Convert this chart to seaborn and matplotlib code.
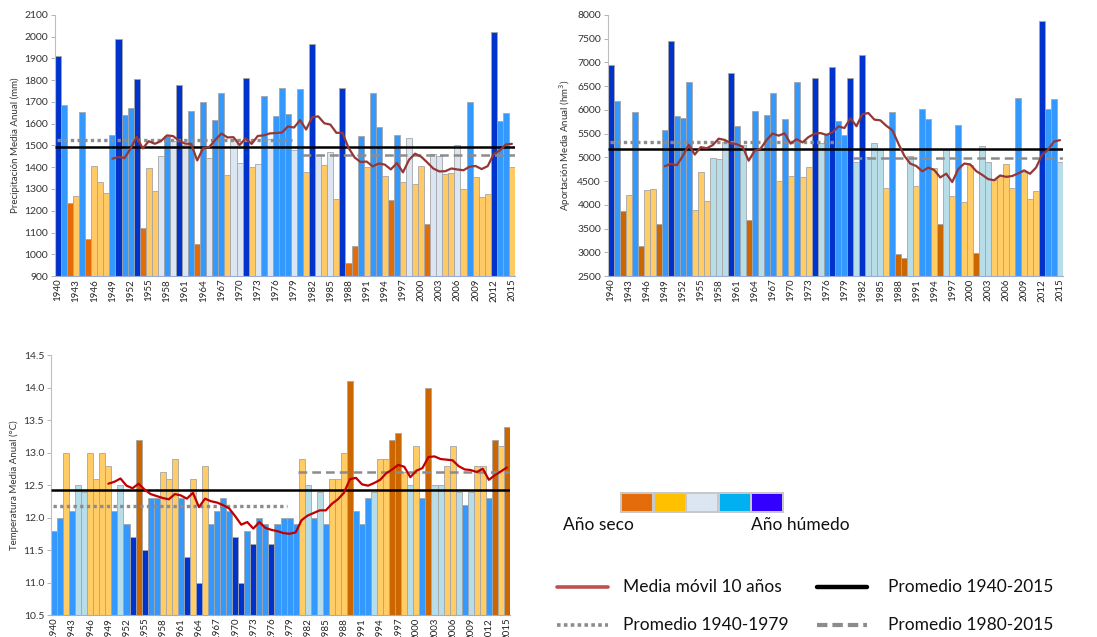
import numpy as np
import pandas as pd
import matplotlib
matplotlib.use("Agg")
import matplotlib.pyplot as plt
import seaborn as sns
from matplotlib.patches import Rectangle
from matplotlib.lines import Line2D

years = list(range(1940, 2016))

# precipitacion media anual (mm)
precip = [1910, 1688, 1235, 1270, 1652, 1070, 1408, 1333, 1280, 1548,
          1990, 1638, 1673, 1806, 1122, 1398, 1290, 1453, 1545, 1520,
          1780, 1500, 1658, 1047, 1698, 1442, 1618, 1743, 1365, 1530,
          1418, 1808, 1402, 1413, 1728, 1530, 1635, 1765, 1647, 1480,
          1758, 1377, 1965, 1455, 1410, 1470, 1256, 1763, 961, 1038,
          1544, 1400, 1743, 1587, 1360, 1249, 1550, 1334, 1534, 1323,
          1406, 1139, 1461, 1453, 1369, 1375, 1502, 1300, 1698, 1354,
          1265, 1275, 2020, 1614, 1648, 1400]
# clase: 0 muy seco ... 4 muy humedo
precip_cls = [4, 3, 0, 1, 3, 0, 1, 1, 1, 3,
              4, 3, 3, 4, 0, 1, 1, 2, 3, 2,
              4, 2, 3, 0, 3, 2, 3, 3, 1, 2,
              2, 4, 1, 2, 3, 2, 3, 3, 3, 2,
              3, 1, 4, 2, 1, 2, 1, 4, 0, 0,
              3, 1, 3, 3, 1, 0, 3, 1, 2, 1,
              1, 0, 2, 2, 1, 1, 2, 1, 3, 1,
              1, 1, 4, 3, 3, 1]

# aportacion media anual (hm3)
aport = [6944, 6183, 3873, 4215, 5950, 3141, 4317, 4330, 3600, 5585,
         7450, 5880, 5820, 6580, 3890, 4700, 4085, 4986, 4965, 5317,
         6780, 5655, 5250, 3670, 5986, 5160, 5887, 6360, 4507, 5810,
         4613, 6580, 4585, 4797, 6680, 5300, 5500, 6900, 5760, 5464,
         6680, 4894, 7150, 5000, 5300, 5150, 4350, 5960, 2970, 2880,
         5020, 4400, 6020, 5800, 4775, 3590, 5150, 4190, 5690, 4060,
         4845, 2990, 5230, 4900, 4530, 4600, 4860, 4350, 6250, 4700,
         4130, 4300, 7880, 6020, 6240, 4900]
aport_cls = [4, 3, 0, 1, 3, 0, 1, 1, 0, 3,
             4, 3, 3, 3, 1, 1, 1, 2, 2, 2,
             4, 3, 2, 0, 3, 2, 3, 3, 1, 3,
             1, 3, 1, 1, 4, 2, 3, 4, 3, 3,
             4, 2, 4, 2, 2, 2, 1, 3, 0, 0,
             2, 1, 3, 3, 1, 0, 2, 1, 3, 1,
             1, 0, 2, 2, 1, 1, 1, 1, 3, 1,
             1, 1, 4, 3, 3, 2]

# temperatura media anual (C)
temp = [11.8, 12.0, 13.0, 12.1, 12.5, 12.4, 13.0, 12.6, 13.0, 12.8,
        12.1, 12.5, 11.9, 11.7, 13.2, 11.5, 12.3, 12.3, 12.7, 12.6,
        12.9, 12.3, 11.4, 12.6, 11.0, 12.8, 11.9, 12.1, 12.3, 12.1,
        11.7, 11.0, 11.8, 11.6, 12.0, 11.9, 11.6, 11.9, 12.0, 12.0,
        11.9, 12.9, 12.5, 12.0, 12.4, 11.9, 12.6, 12.6, 13.0, 14.1,
        12.1, 11.9, 12.3, 12.4, 12.9, 12.9, 13.2, 13.3, 12.7, 12.5,
        13.1, 12.3, 14.0, 12.5, 12.5, 12.8, 13.1, 12.4, 12.2, 12.4,
        12.8, 12.8, 12.3, 13.2, 13.1, 13.4]
temp_cls = [3, 3, 1, 3, 2, 2, 1, 1, 1, 1,
            3, 2, 3, 4, 0, 4, 3, 3, 1, 1,
            1, 3, 4, 1, 4, 1, 3, 3, 3, 3,
            4, 4, 3, 4, 3, 3, 4, 3, 3, 3,
            3, 1, 2, 3, 2, 3, 1, 1, 1, 0,
            3, 3, 3, 2, 1, 1, 0, 0, 1, 2,
            1, 3, 0, 2, 2, 1, 1, 2, 3, 2,
            1, 1, 3, 0, 1, 0]

col_precip = ["#E36C09", "#FFC966", "#DCE6F2", "#3399FF", "#0033CC"]
col_aport = ["#CC6600", "#FFCC66", "#B7DDE8", "#3399FF", "#0033CC"]
col_temp = ["#CC6600", "#FFCC66", "#B7DDE8", "#3399FF", "#0033CC"]
legend_cols = ["#E46C0A", "#FFC000", "#DCE6F2", "#00B0F0", "#3300FF"]

sns.set_style("white")
plt.rcParams['font.family'] = ['Lato', 'DejaVu Sans']

fig = plt.figure(figsize=(10.97, 6.37), dpi=100)


def panel(rect, vals, cls, colors, ma_color, ylim, yticks, ylabel, fmt):
    ax = fig.add_axes(rect)
    ylab = [str(y) for y in years]
    df = pd.DataFrame({"year": ylab, "val": vals, "cls": ["c%d" % c for c in cls]})
    pal = {"c%d" % i: c for i, c in enumerate(colors)}
    sns.barplot(data=df, x="year", y="val", hue="cls", order=ylab,
                hue_order=["c0", "c1", "c2", "c3", "c4"], palette=pal,
                dodge=False, width=1.0, edgecolor="#a6a6a6", linewidth=0.6,
                saturation=1, legend=False, ax=ax)
    n = len(vals)
    s = pd.Series(vals, dtype=float)
    # medias
    ax.hlines(s.mean(), -0.5, n - 0.5, color="black", lw=1.8, zorder=5)
    ax.hlines(s[:40].mean(), -0.2, 38.6, color="#8c8c8c", lw=2.4,
              linestyles=(0, (1.0, 1.0)), zorder=5)
    ax.hlines(s[40:].mean(), 40.4, n - 0.3, color="#8c8c8c", lw=1.8,
              linestyles=(0, (3.5, 2.0)), zorder=5)
    ma = s.rolling(10).mean()
    ax.plot(np.arange(n), ma, color=ma_color, lw=1.6, zorder=6)
    ax.set_xlim(-0.5, n - 0.5)
    ax.set_ylim(*ylim)
    ax.set_yticks(yticks)
    ax.set_yticklabels([fmt % t for t in yticks])
    ax.set_xticks(np.arange(0, n, 3))
    ax.set_xticklabels([str(years[i]) for i in range(0, n, 3)], rotation=90)
    ax.set_xticks(np.arange(-0.5, n, 1), minor=True)
    ax.tick_params(axis="x", which="major", length=0, labelsize=7, pad=2,
                   labelcolor="#222222")
    ax.tick_params(axis="x", which="minor", length=3, color="#a6a6a6", width=0.6)
    ax.tick_params(axis="y", length=3, color="#a6a6a6", width=0.6, labelsize=7.5,
                   labelcolor="#333333", pad=2, left=True)
    ax.set_xlabel("")
    ax.set_ylabel(ylabel, fontsize=7, color="#333333", labelpad=3)
    for sp in ["top", "right"]:
        ax.spines[sp].set_visible(False)
    ax.spines["left"].set_color("#bfbfbf")
    ax.spines["left"].set_linewidth(0.8)
    ax.spines["bottom"].set_color("#9aaed8")
    ax.spines["bottom"].set_linewidth(0.8)
    return ax


panel([0.0501, 0.5667, 0.4193, 0.4098], precip, precip_cls, col_precip, "#953735",
      (900, 2100), list(range(900, 2101, 100)),
      "Precipitación Media Anual (mm)", "%d")
panel([0.5542, 0.5667, 0.4148, 0.4098], aport, aport_cls, col_aport, "#953735",
      (2500, 8000), list(range(2500, 8001, 500)),
      "Aportación Media Anual (hm$^3$)", "%d")
panel([0.0465, 0.0345, 0.4184, 0.4082], temp, temp_cls, col_temp, "#C00000",
      (10.5, 14.5), list(np.arange(10.5, 14.51, 0.5)),
      "Temperatura Media Anual (°C)", "%.1f")

# leyenda (en pixeles de la figura)
lg = fig.add_axes([0, 0, 1, 1])
lg.set_xlim(0, 1097)
lg.set_ylim(637, 0)
lg.axis("off")
lg.patch.set_alpha(0)
lg.add_patch(Rectangle((620, 492), 164, 21, facecolor="#c8c8c8", edgecolor="none"))
for k, c in enumerate(legend_cols):
    lg.add_patch(Rectangle((622 + k * 32.6, 494), 30, 17, facecolor=c, edgecolor="none"))
lg.text(563, 525, "Año seco", fontsize=12.5, va="center", ha="left", color="#111111")
lg.text(751, 525, "Año húmedo", fontsize=12.5, va="center", ha="left", color="#111111")

lg.add_line(Line2D([557, 608], [587, 587], color="#C0504D", lw=2.6))
lg.text(623, 587, "Media móvil 10 años", fontsize=12.5, va="center", color="#111111")
lg.add_line(Line2D([817, 867], [587, 587], color="black", lw=3.2))
lg.text(888, 587, "Promedio 1940-2015", fontsize=12.5, va="center", color="#111111")
lg.add_line(Line2D([557, 608], [625, 625], color="#8c8c8c", lw=2.6,
                   linestyle=(0, (1.0, 0.9))))
lg.text(623, 625, "Promedio 1940-1979", fontsize=12.5, va="center", color="#111111")
lg.add_line(Line2D([817, 867], [625, 625], color="#8c8c8c", lw=3.0,
                   linestyle=(0, (2.5, 1.2))))
lg.text(888, 625, "Promedio 1980-2015", fontsize=12.5, va="center", color="#111111")

fig.savefig("out.png", dpi=100)
